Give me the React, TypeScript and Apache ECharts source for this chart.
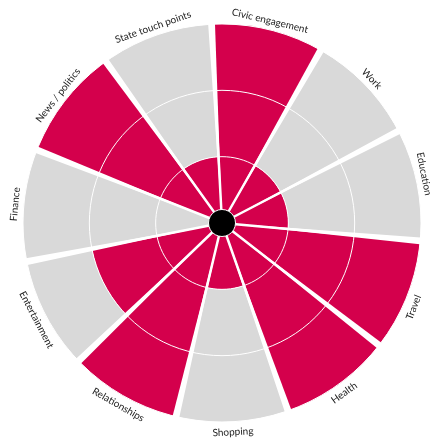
import React, { useEffect, useRef } from 'react';
import * as echarts from 'echarts';

const categories = [
  'Civic engagement',
  'Work',
  'Education',
  'Travel',
  'Health',
  'Shopping',
  'Relationships',
  'Entertainment',
  'Finance',
  'News / politics',
  'State touch points',
];
const values = [3, 1, 1, 3, 3, 1, 3, 2, 0, 3, 1];
const maxLevel = 3;

export default function App() {
  const ref = useRef<HTMLDivElement>(null);
  useEffect(() => {
    const chart = echarts.init(ref.current!, null, { renderer: 'svg' });
    const center = [222, 223];
    chart.setOption({
      animation: false,
      polar: { center, radius: [0, 199] },
      angleAxis: {
        type: 'category',
        data: categories,
        startAngle: 93,
        clockwise: true,
        z: 10,
        axisLine: { show: false },
        axisTick: { show: false },
        axisLabel: { show: false },
        splitLine: { show: true, lineStyle: { color: '#fff', width: 2.5 } },
      },
      radiusAxis: {
        type: 'value',
        min: 0,
        max: maxLevel,
        interval: 1,
        z: 10,
        axisLine: { show: false },
        axisTick: { show: false },
        axisLabel: { show: false },
        splitLine: { show: true, lineStyle: { color: '#fff', width: 1 } },
      },
      series: [
        {
          type: 'bar',
          coordinateSystem: 'polar',
          stack: 't',
          data: values,
          itemStyle: { color: '#D4004C' },
          barCategoryGap: '6%',
          silent: true,
        },
        {
          type: 'bar',
          coordinateSystem: 'polar',
          stack: 't',
          data: values.map((v) => maxLevel - v),
          itemStyle: { color: '#D9D9D9' },
          barCategoryGap: '6%',
          silent: true,
        },
        {
          type: 'scatter',
          coordinateSystem: 'polar',
          data: [[0, 0]],
          symbolSize: 27,
          itemStyle: { color: '#000', borderColor: '#fff', borderWidth: 1, opacity: 1 },
          z: 20,
          silent: true,
        },
        {
          type: 'pie',
          center,
          radius: [198, 213],
          startAngle: 93,
          clockwise: true,
          silent: true,
          data: categories.map((name) => ({ name, value: 1 })),
          itemStyle: { color: 'rgba(0,0,0,0)', borderWidth: 0 },
          label: {
            show: true,
            position: 'inside',
            rotate: 'tangential',
            color: '#222',
            fontFamily: 'Lato',
            fontSize: 10,
            lineHeight: 9,
            textBorderWidth: 0,
          },
          labelLayout: (params: any) =>
            params.rect && params.rect.x + params.rect.width > 426
              ? { dx: 426 - (params.rect.x + params.rect.width) }
              : {},
          labelLine: { show: false },
        },
      ],
    });
    return () => chart.dispose();
  }, []);
  return <div ref={ref} style={{ position: 'fixed', left: 0, top: 0, width: 430, height: 439 }} />;
}
